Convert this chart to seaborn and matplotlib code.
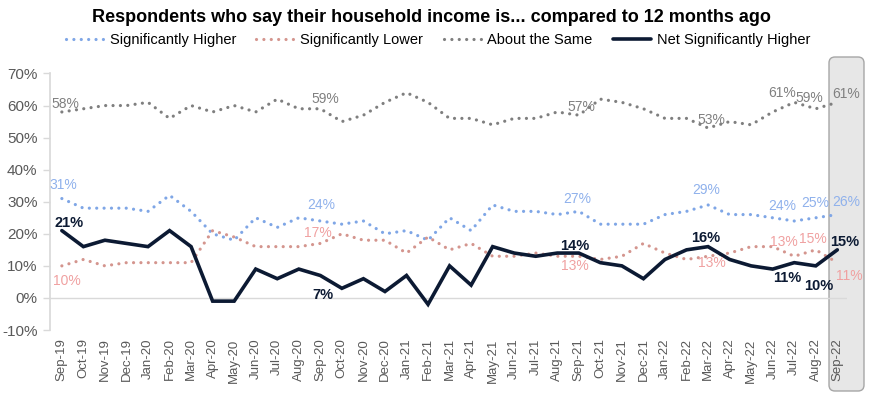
import numpy as np
import pandas as pd
import matplotlib
matplotlib.use("Agg")
import matplotlib.pyplot as plt
import seaborn as sns
from matplotlib.patches import FancyBboxPatch
from matplotlib.lines import Line2D
from matplotlib.transforms import IdentityTransform

# data (percent)
months = ["Sep-19", "Oct-19", "Nov-19", "Dec-19", "Jan-20", "Feb-20", "Mar-20", "Apr-20",
          "May-20", "Jun-20", "Jul-20", "Aug-20", "Sep-20", "Oct-20", "Nov-20", "Dec-20",
          "Jan-21", "Feb-21", "Mar-21", "Apr-21", "May-21", "Jun-21", "Jul-21", "Aug-21",
          "Sep-21", "Oct-21", "Nov-21", "Dec-21", "Jan-22", "Feb-22", "Mar-22", "Apr-22",
          "May-22", "Jun-22", "Jul-22", "Aug-22", "Sep-22"]
higher = [31, 28, 28, 28, 27, 32, 27, 20, 18, 25, 22, 25, 24, 23, 24, 20, 21, 18, 25, 21,
          29, 27, 27, 26, 27, 23, 23, 23, 26, 27, 29, 26, 26, 25, 24, 25, 26]
lower = [10, 12, 10, 11, 11, 11, 11, 21, 19, 16, 16, 16, 17, 20, 18, 18, 14, 19, 15, 17,
         13, 13, 14, 13, 13, 12, 13, 17, 14, 12, 13, 14, 16, 16, 13, 15, 11]
same = [58, 59, 60, 60, 61, 56, 60, 58, 60, 58, 62, 59, 59, 55, 57, 61, 64, 61, 56, 56,
        54, 56, 56, 58, 57, 62, 61, 59, 56, 56, 53, 55, 54, 58, 61, 59, 61]
net = [21, 16, 18, 17, 16, 21, 16, -1, -1, 9, 6, 9, 7, 3, 6, 2, 7, -2, 10, 4,
       16, 14, 13, 14, 14, 11, 10, 6, 12, 15, 16, 12, 10, 9, 11, 10, 15]

# which months carry a data label
labelled = [0, 12, 24, 30, 34, 35, 36]

df = pd.DataFrame({"month": months, "higher": higher, "lower": lower,
                   "same": same, "net": net})

sns.set_theme(style="white")
plt.rcParams["font.family"] = ["Liberation Sans", "DejaVu Sans"]

c_blue, c_red, c_grey, c_net = "#7fa6e6", "#d4958e", "#7f7f7f", "#0c1a33"
lab_blue, lab_red, lab_grey = "#8fb1ec", "#f0a1a1", "#808080"
axis_grey = "#d9d9d9"
txt_grey = "#595959"
dots = (0, (0.01, 2.3))

fig = plt.figure(figsize=(8.72, 3.99), dpi=100)
ax = fig.add_axes([50 / 872, 1 - 330 / 399, 797 / 872, 256.5 / 399])
ax.patch.set_alpha(0)

# shaded rounded box behind the latest month
box = FancyBboxPatch((829, 8), 35, 334, boxstyle="round,pad=0,rounding_size=6",
                     transform=IdentityTransform(), facecolor="#e7e7e7",
                     edgecolor="#a6a6a6", linewidth=1.0, zorder=-1)
fig.add_artist(box)

ax.axhline(0, color=axis_grey, lw=1.0, zorder=1)

for col, color in [("higher", c_blue), ("lower", c_red), ("same", c_grey)]:
    sns.lineplot(data=df, x="month", y=col, ax=ax, color=color, linewidth=2.3,
                 linestyle=dots, dash_capstyle="round", zorder=2)
sns.lineplot(data=df, x="month", y="net", ax=ax, color=c_net, linewidth=2.6,
             solid_joinstyle="miter", zorder=3)

ax.set_xlim(-0.55, 36.45)
ax.set_ylim(-10, 70)
ax.set_yticks(range(-10, 71, 10))
ax.set_yticklabels([f"{v}%" for v in range(-10, 71, 10)])
ax.set_xlabel("")
ax.set_ylabel("")
for s in ["top", "right", "bottom"]:
    ax.spines[s].set_visible(False)
ax.spines["left"].set_color(axis_grey)
ax.tick_params(axis="y", left=True, length=5, width=1, color=axis_grey, pad=4,
               labelsize=11, labelcolor=txt_grey)
ax.tick_params(axis="x", bottom=False, length=0, pad=6, labelsize=9.5,
               labelcolor=txt_grey, rotation=90)

# label offsets in pixels (dx, dy downwards)
offs = {
    "same": [(4, -8), (5, -10), (3, -8), (3, -8), (-12, -9), (-6, -11), (9, -8)],
    "higher": [(1, -14), (1, -16), (-2, -12), (-2, -15), (-12, -15), (-1, -15), (9, -13)],
    "lower": [(5, 15), (-2, -10), (-4, 10), (4, 7), (-10, -14), (-3, -11), (12, 13)],
    "net": [(7, -8), (3, 20), (-4, -7), (-2, -9), (-7, 15), (3, 20), (7, -8)],
}
styles = {"same": (lab_grey, "normal", 10), "higher": (lab_blue, "normal", 10),
          "lower": (lab_red, "normal", 10), "net": (c_net, "bold", 10.5)}
for col, o in offs.items():
    color, weight, size = styles[col]
    for i, (dx, dy) in zip(labelled, o):
        v = df[col][i]
        ax.annotate(f"{v}%", (months[i], v), xytext=(dx * 0.72, -dy * 0.72),
                    textcoords="offset points", ha="center", va="center",
                    color=color, fontweight=weight, fontsize=size, zorder=4)

fig.text(431 / 872, 1 - 17 / 399,
         "Respondents who say their household income is... compared to 12 months ago",
         ha="center", va="center", fontsize=13, fontweight="bold", color="black")

handles = [
    Line2D([], [], color=c_blue, lw=2.3, linestyle=dots, dash_capstyle="round"),
    Line2D([], [], color=c_red, lw=2.3, linestyle=dots, dash_capstyle="round"),
    Line2D([], [], color=c_grey, lw=2.3, linestyle=dots, dash_capstyle="round"),
    Line2D([], [], color=c_net, lw=2.6),
]
fig.legend(handles, ["Significantly Higher", "Significantly Lower", "About the Same",
                     "Net Significantly Higher"],
           loc="center", bbox_to_anchor=(438 / 872, 1 - 40 / 399), ncol=4,
           frameon=False, fontsize=10.5, handlelength=2.6, handletextpad=0.4,
           columnspacing=1.4, labelcolor="black")

fig.savefig("out.png", dpi=100)
